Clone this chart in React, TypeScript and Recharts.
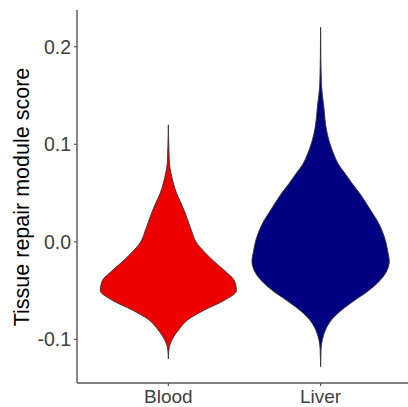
import React from 'react';
import { ComposedChart, Area, XAxis, YAxis, Label } from 'recharts';

const categories = ['Blood', 'Liver'];
const categoryPositions = [1, 2];
const yTicks = [-0.1, 0, 0.1, 0.2];

// score levels (y) at which violin half-widths were read
const scoreLevels = [
  0.22, 0.21, 0.2, 0.19, 0.18, 0.17, 0.16, 0.15, 0.14, 0.13, 0.12, 0.11, 0.1,
  0.09, 0.08, 0.07, 0.06, 0.05, 0.04, 0.03, 0.02, 0.01, 0.0, -0.01, -0.02,
  -0.03, -0.04, -0.05, -0.06, -0.07, -0.08, -0.09, -0.1, -0.11, -0.12, -0.128,
];

// half-width of the Blood violin (in category units)
const bloodHalfWidth: (number | null)[] = [
  null, null, null, null, null, null, null, null, null, null, 0, 0.0013, 0.0026,
  0.0046, 0.0072, 0.018, 0.033, 0.053, 0.082, 0.109, 0.132, 0.155, 0.181, 0.234, 0.299,
  0.372, 0.434, 0.447, 0.368, 0.237, 0.128, 0.069, 0.026, 0.004, 0, null,
];

// half-width of the Liver violin (in category units)
const liverHalfWidth: (number | null)[] = [
  0, 0.0007, 0.001, 0.0016, 0.0026, 0.004, 0.006, 0.012, 0.02, 0.026, 0.033, 0.045, 0.0625,
  0.086, 0.115, 0.161, 0.206, 0.255, 0.298, 0.338, 0.378, 0.407, 0.428, 0.441, 0.451,
  0.434, 0.388, 0.316, 0.224, 0.138, 0.072, 0.033, 0.012, 0.003, 0.0013, 0,
];

const range = (center: number, w: number | null) =>
  w == null ? [null, null] : [center - w, center + w];

const rows = scoreLevels.map((score, i) => ({
  score,
  blood: range(categoryPositions[0], bloodHalfWidth[i]),
  liver: range(categoryPositions[1], liverHalfWidth[i]),
}));

const FONT = '"Liberation Sans", Arial, Helvetica, sans-serif';

export default function App() {
  return (
    <div style={{ position: 'absolute', left: 0, top: 0, width: 408, height: 407, background: '#fff', fontFamily: FONT }}>
      <ComposedChart
        layout="vertical"
        width={408}
        height={407}
        data={rows}
        margin={{ top: 10, right: 0, bottom: 0, left: 0 }}
      >
        <XAxis
          type="number"
          domain={[0.4, 2.574]}
          ticks={categoryPositions}
          tickFormatter={(v: number) => categories[categoryPositions.indexOf(v)]}
          allowDataOverflow
          height={24}
          tickSize={3}
          tickMargin={4}
          axisLine={{ stroke: '#555', strokeWidth: 1.4 }}
          tickLine={{ stroke: '#555', strokeWidth: 1.2 }}
          tick={{ fill: '#404040', fontSize: 19, fontFamily: FONT }}
        />
        <YAxis
          type="number"
          dataKey="score"
          domain={[-0.1448, 0.2377]}
          ticks={yTicks}
          reversed
          allowDataOverflow
          width={77}
          tickSize={3}
          tickMargin={3}
          tickFormatter={(v: number) => v.toFixed(1)}
          axisLine={{ stroke: '#555', strokeWidth: 1.4 }}
          tickLine={{ stroke: '#555', strokeWidth: 1.2 }}
          tick={{ fill: '#404040', fontSize: 19.5, fontFamily: FONT }}
        >
          <Label
            content={() => (
              <text
                x={28.5}
                y={197}
                transform="rotate(-90 28.5 197)"
                textAnchor="middle"
                fontSize={21.5}
                fontFamily={FONT}
                fill="#000"
              >
                Tissue repair module score
              </text>
            )}
          />
        </YAxis>
        <Area
          dataKey="blood"
          type="monotone"
          fill="#ee0000"
          fillOpacity={1}
          stroke="#333"
          strokeWidth={0.9}
          isAnimationActive={false}
          dot={false}
          activeDot={false}
        />
        <Area
          dataKey="liver"
          type="monotone"
          fill="#000080"
          fillOpacity={1}
          stroke="#333"
          strokeWidth={0.9}
          isAnimationActive={false}
          dot={false}
          activeDot={false}
        />
      </ComposedChart>
    </div>
  );
}
